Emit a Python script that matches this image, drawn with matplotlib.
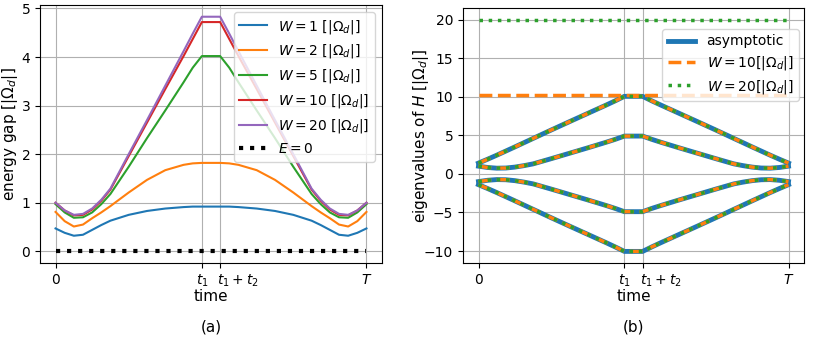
import matplotlib
matplotlib.use("Agg")
import matplotlib.pyplot as plt
import matplotlib.transforms as mtransforms
import numpy as np

# time axis (T = 17, t1 = 8, t2 = 1)
t1, t2, T = 8.0, 1.0, 17.0
time = [0, 0.5, 1, 1.5, 2, 2.5, 3, 4, 5, 6, 7, 7.5, 8,
        9, 9.5, 10, 11, 12, 13, 14, 14.5, 15, 15.5, 16, 16.5, 17]

# ---- (a) energy gap ----
gap_W1 = [0.47, 0.38, 0.32, 0.34, 0.44, 0.54, 0.63, 0.75, 0.83, 0.88, 0.91, 0.92, 0.92,
          0.92, 0.92, 0.91, 0.88, 0.83, 0.75, 0.63, 0.54, 0.44, 0.34, 0.32, 0.38, 0.47]
gap_W2 = [0.81, 0.62, 0.51, 0.55, 0.68, 0.80, 0.93, 1.21, 1.47, 1.67, 1.78, 1.81, 1.82,
          1.82, 1.81, 1.78, 1.67, 1.47, 1.21, 0.93, 0.80, 0.68, 0.55, 0.51, 0.62, 0.81]
gap_W5 = [0.97, 0.80, 0.69, 0.70, 0.80, 0.97, 1.18, 1.74, 2.33, 2.90, 3.48, 3.78, 4.02,
          4.02, 3.78, 3.48, 2.90, 2.33, 1.74, 1.18, 0.97, 0.80, 0.70, 0.69, 0.80, 0.97]
gap_W10 = [1.00, 0.84, 0.74, 0.75, 0.86, 1.04, 1.27, 1.96, 2.65, 3.34, 4.02, 4.37, 4.72,
           4.72, 4.37, 4.02, 3.34, 2.65, 1.96, 1.27, 1.04, 0.86, 0.75, 0.74, 0.84, 1.00]
gap_W20 = [1.00, 0.84, 0.75, 0.77, 0.88, 1.06, 1.29, 2.00, 2.70, 3.41, 4.12, 4.48, 4.83,
           4.83, 4.48, 4.12, 3.41, 2.70, 2.00, 1.29, 1.06, 0.88, 0.77, 0.75, 0.84, 1.00]
gap_zero = [0.0] * len(time)
gap_series = [gap_W1, gap_W2, gap_W5, gap_W10, gap_W20]
gap_labels = [r'$W = 1$ $[|\Omega_d|]$', r'$W = 2$ $[|\Omega_d|]$', r'$W = 5$ $[|\Omega_d|]$',
              r'$W = 10$ $[|\Omega_d|]$', r'$W = 20$ $[|\Omega_d|]$']

# ---- (b) eigenvalues ----
eig_A = [1.40, 1.90, 2.42, 2.96, 3.50, 4.05, 4.60, 5.70, 6.78, 7.85, 8.92, 9.47, 10.05,
         10.05, 9.47, 8.92, 7.85, 6.78, 5.70, 4.60, 4.05, 3.50, 2.96, 2.42, 1.90, 1.40]
eig_B = [1.00, 0.83, 0.74, 0.76, 0.88, 1.07, 1.30, 1.98, 2.68, 3.38, 4.10, 4.48, 4.90,
         4.90, 4.48, 4.10, 3.38, 2.68, 1.98, 1.30, 1.07, 0.88, 0.76, 0.74, 0.83, 1.00]
eig_C = [-1.00, -0.83, -0.74, -0.76, -0.88, -1.07, -1.30, -1.98, -2.68, -3.38, -4.10, -4.48, -4.90,
         -4.90, -4.48, -4.10, -3.38, -2.68, -1.98, -1.30, -1.07, -0.88, -0.76, -0.74, -0.83, -1.00]
eig_D = [-1.40, -1.90, -2.42, -2.96, -3.50, -4.05, -4.60, -5.70, -6.78, -7.85, -8.92, -9.47, -10.05,
         -10.05, -9.47, -8.92, -7.85, -6.78, -5.70, -4.60, -4.05, -3.50, -2.96, -2.42, -1.90, -1.40]
eig_top_W10 = [10.2] * len(time)
eig_top_W20 = [20.0] * len(time)
eig_asym = [eig_A, eig_B, eig_C, eig_D]
eig_W10 = [eig_A, eig_B, eig_C, eig_D, eig_top_W10]
eig_W20 = [eig_A, eig_B, eig_C, eig_D, eig_top_W20]

xtick_pos = [0, t1, t1 + t2, T]
xtick_labels = ['0', '$t_1$', '$t_1+t_2$', '$T$']

fig = plt.figure(figsize=(8.14, 3.42), dpi=100)
ax1 = fig.add_axes([40 / 814, 1 - 263 / 342, 342 / 814, 258 / 342])
ax2 = fig.add_axes([463 / 814, 1 - 263 / 342, 341 / 814, 255 / 342])


def style_xticks(ax):
    ax.set_xticks(xtick_pos)
    ax.set_xticklabels(xtick_labels)
    lab = ax.get_xticklabels()[2]
    lab.set_ha('left')
    lab.set_transform(lab.get_transform() +
                      mtransforms.ScaledTranslation(-3 / 100, 0, fig.dpi_scale_trans))


colors = ['C0', 'C1', 'C2', 'C3', 'C4']
for s, c, lab in zip(gap_series, colors, gap_labels):
    ax1.plot(time, s, color=c, lw=1.5, label=lab)
ax1.plot(time, gap_zero, color='black', lw=3, ls=':', label=r'$E=0$')
style_xticks(ax1)
ax1.set_yticks([0, 1, 2, 3, 4, 5])
ax1.set_xlabel('time', fontsize=11, labelpad=0)
ax1.set_ylabel(r'energy gap [$|\Omega_d|$]', fontsize=11)
ax1.yaxis.set_label_coords(-0.058, 0.5)
ax1.grid(True)
ax1.legend(loc='upper right', fontsize=10)

for i, s in enumerate(eig_asym):
    ax2.plot(time, s, color='C0', lw=3.5, label='asymptotic' if i == 0 else None)
for i, s in enumerate(eig_W10):
    ax2.plot(time, s, color='C1', lw=2.5, ls='--', label=r'$W=10[|\Omega_d|]$' if i == 0 else None)
for i, s in enumerate(eig_W20):
    ax2.plot(time, s, color='C2', lw=2.5, ls=':', label=r'$W=20[|\Omega_d|]$' if i == 0 else None)
style_xticks(ax2)
ax2.set_yticks([-10, -5, 0, 5, 10, 15, 20])
ax2.set_xlabel('time', fontsize=11, labelpad=0)
ax2.set_ylabel(r'eigenvalues of $H$ [$|\Omega_d|$]', fontsize=11)
ax2.yaxis.set_label_coords(-0.095, 0.5)
ax2.grid(True)
ax2.legend(loc='upper right', bbox_to_anchor=(0.985, 0.918), borderaxespad=0,
           fontsize=10, labelspacing=0.4)

fig.text(211 / 814, 1 - 327 / 342, '(a)', ha='center', va='center', fontsize=11)
fig.text(633 / 814, 1 - 327 / 342, '(b)', ha='center', va='center', fontsize=11)

fig.savefig('out.png', dpi=100)
